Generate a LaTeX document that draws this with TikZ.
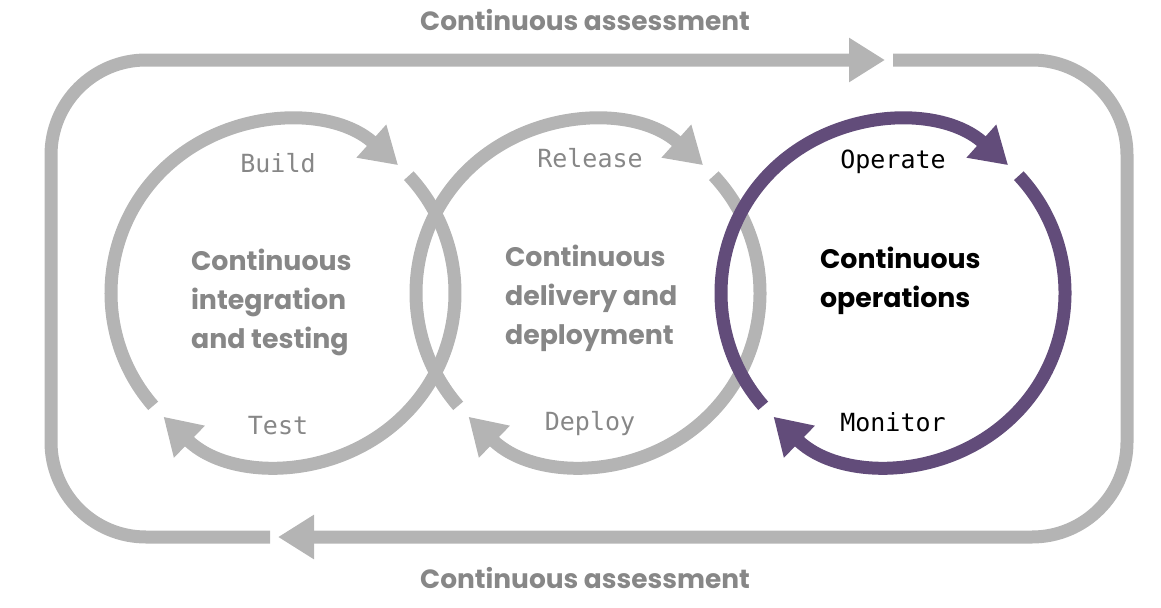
\documentclass[tikz,border=0pt]{standalone}
\usepackage{fontspec}
\setmainfont{Poppins}
\newfontfamily\stagefont{DejaVu Sans Mono}
\usetikzlibrary{arrows.meta}

\definecolor{loopgrey}{RGB}{180,180,180}
\definecolor{textgrey}{RGB}{135,135,135}
\definecolor{opspurple}{RGB}{98,76,122}

\begin{document}
\begin{tikzpicture}[x=0.5pt,y=0.5pt,
    loop/.style={line width=6.5pt,draw=loopgrey,-{Triangle[length=18pt,width=21pt]}},
    title/.style={font=\bfseries\fontsize{13.2}{16}\selectfont,text=textgrey},
    phase/.style={font=\bfseries\fontsize{13.4}{19.5}\selectfont,align=left,anchor=west,text=textgrey},
    stage/.style={font=\stagefont\fontsize{12.5}{15}\selectfont,text=textgrey}]
            \useasboundingbox (0,0) rectangle (1161,607);

            \coordinate (ci) at (283,314);
            \coordinate (cd) at (588,314);
            \coordinate (co) at (893,314);

            % outer loop
            \draw[loop,rounded corners=47.5pt] (893,547) -- (1127,547) -- (1127,70) -- (278,70);
            \draw[loop,rounded corners=47.5pt] (270,70) -- (51,70) -- (51,547) -- (885,547);

            % integration and testing
            \draw[loop] (ci) ++(43:172) arc[start angle=43,end angle=-134,radius=172];
            \draw[loop] (ci) ++(221:172) arc[start angle=221,end angle=48,radius=172];
            % delivery and deployment
            \draw[loop] (cd) ++(43:172) arc[start angle=43,end angle=-134,radius=172];
            \draw[loop] (cd) ++(221:172) arc[start angle=221,end angle=48,radius=172];
            % operations
            \draw[loop,draw=opspurple] (co) ++(43:172) arc[start angle=43,end angle=-134,radius=172];
            \draw[loop,draw=opspurple] (co) ++(221:172) arc[start angle=221,end angle=48,radius=172];

            \node[title] (top) at (585,587) {Continuous assessment};
            \node[title] (bottom) at (585,29) {Continuous assessment};

            \node[phase] (ci-text) at (184,305) {Continuous\\integration\\and testing};
            \node[phase] (cd-text) at (498,309) {Continuous\\delivery and\\deployment};
            \node[phase,text=black] (co-text) at (813,326) {Continuous\\operations};

            \node[stage] (build) at (278,444) {Build};
            \node[stage] (test) at (278,181) {Test};
            \node[stage] (release) at (590,449) {Release};
            \node[stage] (deploy) at (590,183) {Deploy};
            \node[stage,text=black] (operate) at (893,445) {Operate};
            \node[stage,text=black] (monitor) at (893,185) {Monitor};
          \end{tikzpicture}
\end{document}
